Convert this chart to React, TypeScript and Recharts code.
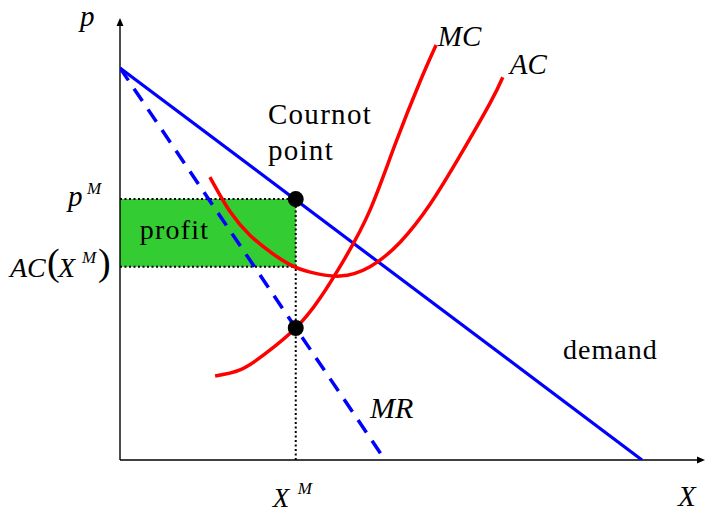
import { ComposedChart, Line, XAxis, YAxis, ReferenceArea, ReferenceLine, ReferenceDot } from "recharts";

// quantities on X, prices on p (both 0..100 in chart units)
const demand = [
  { x: 0, y: 89.1 },
  { x: 90, y: 0 },
];
const marginalRevenue = [
  { x: 0, y: 89.1 },
  { x: 45.7, y: 0 },
];
const marginalCost = [
  { x: 16.4, y: 19.1 },
  { x: 20.7, y: 20.5 },
  { x: 25.0, y: 24.1 },
  { x: 30.3, y: 30.0 },
  { x: 34.5, y: 36.8 },
  { x: 38.8, y: 45.9 },
  { x: 43.1, y: 56.8 },
  { x: 47.4, y: 71.6 },
  { x: 51.7, y: 85.9 },
  { x: 54.5, y: 94.3 },
];
const averageCost = [
  { x: 15.5, y: 64.3 },
  { x: 19.0, y: 56.4 },
  { x: 22.4, y: 51.1 },
  { x: 25.9, y: 47.3 },
  { x: 29.3, y: 44.4 },
  { x: 32.8, y: 42.7 },
  { x: 37.9, y: 41.8 },
  { x: 43.1, y: 43.9 },
  { x: 48.3, y: 49.5 },
  { x: 53.4, y: 58.0 },
  { x: 58.6, y: 69.1 },
  { x: 63.8, y: 81.1 },
  { x: 66.0, y: 87.0 },
];

const xM = 30.3;
const pM = 59.3;
const acM = 43.9;
const mcM = 30.0;

const serif = '"Liberation Serif", "DejaVu Serif", serif';

function PriceTick({ cx, cy }: any) {
  return (
    <g fontFamily={serif} fontStyle="italic" fill="#000">
      <text x={cx - 52} y={cy + 7} fontSize={29}>p</text>
      <text x={cx - 33} y={cy - 5} fontSize={17}>M</text>
    </g>
  );
}

function CostTick({ cx, cy }: any) {
  return (
    <g fontFamily={serif} fill="#000">
      <text x={cx - 110} y={cy + 10} fontSize={28} fontStyle="italic">AC</text>
      <text x={cx - 73} y={cy + 8} fontSize={38}>(</text>
      <text x={cx - 62} y={cy + 10} fontSize={28} fontStyle="italic">X</text>
      <text x={cx - 38} y={cy - 4} fontSize={17} fontStyle="italic">M</text>
      <text x={cx - 22} y={cy + 8} fontSize={38}>)</text>
    </g>
  );
}

function QuantityTick({ cx, cy }: any) {
  return (
    <g fontFamily={serif} fontStyle="italic" fill="#000">
      <text x={cx - 23} y={cy + 47} fontSize={27}>X</text>
      <text x={cx + 2} y={cy + 34} fontSize={17}>M</text>
    </g>
  );
}

const dotted = { stroke: "#000", strokeWidth: 2, strokeDasharray: "2 2.5" };
const axisStyle = { stroke: "#000", strokeWidth: 1.4 };

function label(text: string, size: number, italic: boolean, spacing = 0, second?: string) {
  return (p: any) => (
    <text
      x={p.cx}
      y={p.cy}
      fontFamily={serif}
      fontSize={size}
      fontStyle={italic ? "italic" : "normal"}
      letterSpacing={spacing}
      fill="#000"
    >
      {text}
      {second && (
        <tspan x={p.cx} dy={36}>
          {second}
        </tspan>
      )}
    </text>
  );
}

export default function App() {
  return (
    <div style={{ position: "absolute", left: 0, top: 0, background: "#fff" }}>
      <ComposedChart width={705} height={513} margin={{ top: 20, right: 5, bottom: 53, left: 120 }}>
        <XAxis dataKey="x" type="number" domain={[0, 100]} allowDataOverflow hide />
        <YAxis dataKey="y" type="number" domain={[0, 100]} allowDataOverflow hide />

        <ReferenceArea x1={0} x2={xM} y1={acM} y2={pM} fill="#33cc33" fillOpacity={1} stroke="none" />
        <ReferenceLine segment={[{ x: 0, y: pM }, { x: xM, y: pM }]} {...dotted} />
        <ReferenceLine segment={[{ x: 0, y: acM }, { x: xM, y: acM }]} {...dotted} />
        <ReferenceLine segment={[{ x: xM, y: 0 }, { x: xM, y: pM }]} {...dotted} />

        {/* axes */}
        <ReferenceLine segment={[{ x: 0, y: 0 }, { x: 0, y: 100 }]} {...axisStyle} />
        <ReferenceLine segment={[{ x: 0, y: 0 }, { x: 100, y: 0 }]} {...axisStyle} />

        <Line data={demand} dataKey="y" type="linear" stroke="#0000ff" strokeWidth={3.2} dot={false} activeDot={false} isAnimationActive={false} />
        <Line
          data={marginalRevenue}
          dataKey="y"
          type="linear"
          stroke="#0000ff"
          strokeWidth={3.5}
          strokeDasharray="15 10"
          dot={false}
          activeDot={false}
          isAnimationActive={false}
        />
        <Line data={marginalCost} dataKey="y" type="natural" stroke="#ff0000" strokeWidth={3.5} dot={false} activeDot={false} isAnimationActive={false} />
        <Line data={averageCost} dataKey="y" type="natural" stroke="#ff0000" strokeWidth={3.5} dot={false} activeDot={false} isAnimationActive={false} />

        <ReferenceDot x={xM} y={pM} r={8} fill="#000" stroke="none" />
        <ReferenceDot x={xM} y={mcM} r={8} fill="#000" stroke="none" />

        {/* arrow heads */}
        <ReferenceDot
          x={0}
          y={100}
          ifOverflow="visible"
          shape={(p: any) => <path d={`M${p.cx},${p.cy - 2} L${p.cx + 3.5},${p.cy + 6} L${p.cx - 3.5},${p.cy + 6} Z`} fill="#000" />}
        />
        <ReferenceDot
          x={100}
          y={0}
          ifOverflow="visible"
          shape={(p: any) => <path d={`M${p.cx + 5},${p.cy} L${p.cx - 3},${p.cy - 3.5} L${p.cx - 3},${p.cy + 3.5} Z`} fill="#000" />}
        />

        {/* tick labels */}
        <ReferenceDot x={0} y={pM} ifOverflow="visible" shape={(p: any) => <PriceTick {...p} />} />
        <ReferenceDot x={0} y={acM} ifOverflow="visible" shape={(p: any) => <CostTick {...p} />} />
        <ReferenceDot x={xM} y={0} ifOverflow="visible" shape={(p: any) => <QuantityTick {...p} />} />

        {/* annotations */}
        <ReferenceDot x={-6.9} y={98.6} ifOverflow="visible" shape={label("p", 29, true)} />
        <ReferenceDot x={96.2} y={-10.5} ifOverflow="visible" shape={label("X", 29, true)} />
        <ReferenceDot x={25.5} y={76.4} ifOverflow="visible" shape={label("Cournot", 29, false, 1.3, "point")} />
        <ReferenceDot x={54.8} y={94.1} ifOverflow="visible" shape={label("MC", 29, true)} />
        <ReferenceDot x={67.2} y={87.7} ifOverflow="visible" shape={label("AC", 29, true)} />
        <ReferenceDot x={76.4} y={23.0} ifOverflow="visible" shape={label("demand", 28, false, 1)} />
        <ReferenceDot x={43.1} y={9.5} ifOverflow="visible" shape={label("MR", 30, true)} />
        <ReferenceDot x={3.4} y={50.2} ifOverflow="visible" shape={label("profit", 28, false, 1.2)} />
      </ComposedChart>
    </div>
  );
}
